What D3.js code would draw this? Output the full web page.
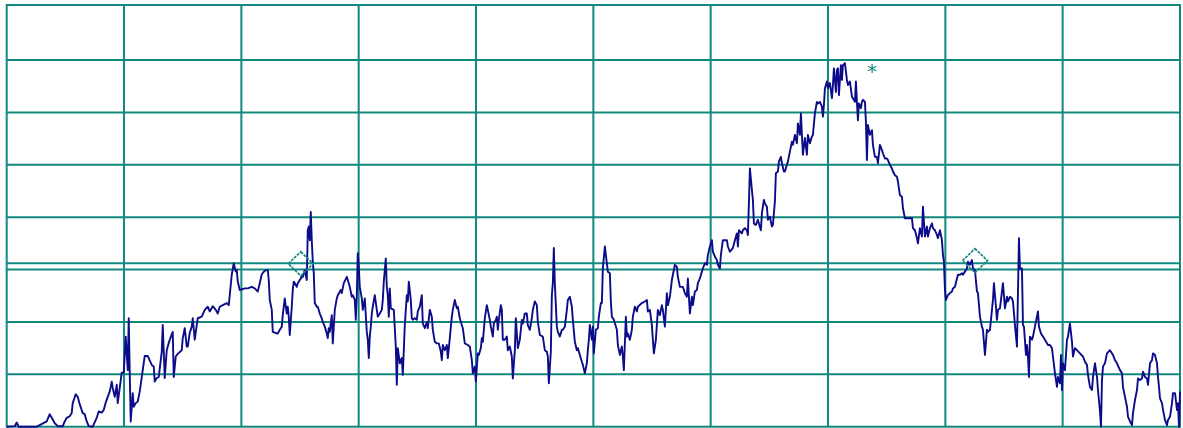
<!DOCTYPE html>
<html>
<head>
<meta charset="utf-8">
<script src="https://cdn.jsdelivr.net/npm/d3@7"></script>
<style>
  html, body { margin: 0; padding: 0; background: #ffffff; }
  svg { display: block; }
</style>
</head>
<body>
<svg id="chart" width="1183" height="428"></svg>
<script>
// Analyzer screen: 10 horizontal divisions of trace points, 10 dB/div, reference level 0 dB
const pointCount = 1173;
const refLevel = 0;
const bottomLevel = -80;
const levelDivs = [-10, -20, -30, -40, -50, -60, -70];
const pointDivs = d3.range(1, 10).map(k => k * pointCount / 10);
const displayLine = -48.8;

// trace: [display point, level dB]
const trace = [
[0,-80],[8,-79.9],[10,-79.2],[12,-80],[30,-80],[33,-79.7],[40,-79],[43,-77.6],[45,-78.3],[48,-79.3],
[51,-79.9],[56,-79.9],[58,-79],[60,-78.3],[63,-78],[65,-77.4],[66,-75.5],[69,-73.8],[71,-74.3],[73,-75.7],
[76,-77.4],[78,-77.6],[80,-79],[82,-79.9],[86,-80],[90,-78.3],[92,-77.1],[95,-77.3],[97,-76.8],[99,-75.4],
[101,-74.3],[103,-73.3],[105,-71.4],[106,-72.6],[108,-74.3],[110,-72],[111,-75.5],[113,-72.6],[115,-69.7],[117,-69.7],
[119,-62.8],[121,-69.2],[122,-59.3],[123,-69.7],[124,-79],[126,-73.6],[127,-76.2],[129,-75.5],[131,-75.2],[133,-73.3],
[136,-69.2],[138,-66.5],[141,-66.5],[145,-68.2],[147,-68.5],[148,-71.4],[150,-70.7],[152,-70.5],[155,-65.7],[156,-60.6],
[158,-70.7],[160,-65.4],[162,-64],[164,-62.9],[166,-61.9],[167,-70.5],[169,-66.6],[171,-66.1],[175,-65.4],[176,-63.1],
[178,-61.2],[180,-64.7],[181,-64.7],[183,-62.1],[185,-60.9],[186,-59.3],[188,-63.4],[190,-60.6],[191,-59.3],[195,-59],
[198,-57.7],[201,-57.1],[203,-58],[206,-57],[209,-57.7],[211,-58.4],[213,-57.1],[216,-56.8],[220,-56.4],[222,-56.8],
[223,-54.9],[225,-51],[227,-48.8],[229,-50.4],[230,-50.1],[231,-52.3],[233,-53.9],[238,-53.6],[241,-53.6],[245,-53.3],
[248,-53.6],[251,-54.2],[253,-52.6],[255,-50.9],[258,-50.2],[261,-50.1],[262,-52],[263,-55.8],[265,-57.7],[266,-61.9],
[270,-62.2],[271,-62.2],[273,-61.5],[275,-60.9],[276,-58.7],[278,-55.5],[280,-58.4],[281,-57.1],[282,-59],[283,-62.5],
[285,-57.1],[286,-53.9],[287,-52.3],[290,-53.3],[291,-52.6],[293,-52],[295,-51.4],[296,-51.4],[298,-50.1],[300,-52],
[301,-42.5],[302,-41.8],[303,-44.4],[304,-39],[305,-44.4],[306,-48.5],[307,-50.7],[308,-56.4],[310,-57.1],[311,-57.1],
[313,-58.4],[315,-59.3],[316,-60],[318,-60.9],[320,-62.2],[321,-63.1],[322,-61.2],[323,-61.9],[325,-58.7],[326,-64.1],
[328,-57.7],[330,-55.5],[331,-54.9],[334,-53.9],[335,-54.5],[337,-52.6],[340,-51.4],[341,-52],[343,-53.3],[345,-55.2],
[346,-54.9],[348,-55.8],[349,-59.6],[350,-55.2],[351,-46.9],[352,-49.5],[353,-53.3],[355,-55.5],[356,-57.7],[358,-55.5],
[360,-61.9],[361,-63.4],[362,-66.9],[363,-62.8],[364,-60.9],[365,-58.4],[366,-57.1],[368,-54.9],[370,-57.7],[371,-59],
[373,-58.4],[375,-57.7],[376,-55.8],[377,-52.3],[379,-47.9],[380,-53.3],[381,-54.9],[382,-59],[383,-53.6],[384,-57.4],
[387,-57.7],[389,-64.7],[390,-72],[391,-65],[393,-67.9],[395,-66.9],[396,-70.1],[398,-60.6],[400,-54.9],[401,-56.1],
[402,-52.3],[404,-55.8],[405,-59.3],[406,-59.6],[408,-59.3],[410,-59.6],[411,-58],[413,-57.1],[415,-54.9],[416,-60.3],
[418,-61.2],[420,-60],[421,-61.2],[423,-57.7],[425,-59],[426,-61.5],[428,-63.8],[430,-64.1],[432,-64.1],[434,-65.7],
[435,-67.3],[436,-64.4],[438,-65.4],[440,-64.4],[441,-66.9],[443,-63.1],[445,-59],[446,-57.7],[448,-55.8],[450,-57.4],
[451,-57.1],[453,-59.3],[455,-60.6],[456,-61.2],[458,-64.1],[461,-64.4],[463,-64.7],[465,-67.3],[466,-69.8],[468,-68.5],
[469,-71.4],[471,-66],[472,-66.3],[474,-65],[475,-63.1],[476,-63.8],[478,-59.3],[480,-56.8],[481,-57.7],[483,-59.6],
[484,-60.9],[486,-62.8],[487,-60.3],[489,-59.6],[490,-59],[491,-61.5],[492,-59.6],[494,-56.8],[495,-57.7],[496,-63.4],
[498,-63.4],[500,-62.8],[501,-65.4],[503,-64.7],[505,-66.6],[506,-70.8],[508,-65.4],[509,-59.3],[511,-65],[513,-63.4],
[515,-59.6],[516,-60.3],[518,-58.4],[520,-58.4],[521,-60.6],[523,-61.5],[525,-59.3],[526,-57.7],[528,-56.1],[530,-56.8],
[531,-60],[533,-62.5],[536,-62.8],[538,-65.4],[540,-65.7],[541,-66.6],[542,-71.7],[544,-65.7],[545,-54.9],[546,-52.6],
[547,-45.9],[548,-52.6],[550,-60.9],[551,-61.9],[553,-62.8],[555,-61.5],[556,-61.5],[558,-60.9],[560,-57.7],[561,-55.8],
[563,-55.2],[565,-57.1],[566,-59.6],[568,-63.8],[570,-65.4],[571,-65],[573,-66.3],[575,-67.6],[576,-68.2],[578,-69.8],
[580,-67.9],[581,-65.4],[582,-63.4],[583,-60.6],[585,-63.4],[586,-60.9],[587,-66],[589,-61.5],[591,-61.2],[592,-59],
[594,-56.4],[595,-56.4],[596,-49.8],[598,-45.6],[599,-47.2],[600,-48.8],[601,-50.4],[603,-50.7],[604,-56.1],[605,-59],
[607,-59.6],[610,-61.5],[611,-64.4],[613,-66.3],[615,-64.7],[616,-66.6],[617,-69.2],[619,-59],[620,-62.8],[621,-62.2],
[623,-63.4],[625,-61.5],[626,-59],[628,-57.1],[630,-58],[631,-57.1],[635,-56.4],[638,-56.1],[640,-55.8],[641,-58],
[643,-57.7],[645,-60.6],[646,-63.4],[647,-66],[649,-63.4],[651,-57.7],[653,-58.7],[655,-56.8],[656,-57.7],[658,-60.9],
[660,-54.5],[661,-56.8],[663,-55.2],[665,-52],[666,-51],[668,-49.1],[670,-49.5],[671,-51.4],[673,-53.3],[676,-53.3],
[678,-54.5],[680,-55.2],[681,-51.7],[683,-58.4],[685,-55.2],[686,-56.8],[688,-54.2],[690,-53.9],[691,-52.6],[693,-51.7],
[695,-50.4],[696,-49.8],[698,-48.8],[700,-49.1],[701,-47.2],[703,-45.6],[705,-44.4],[706,-46.6],[708,-47.5],[710,-48.2],
[711,-49.1],[713,-49.8],[714,-47.2],[716,-44.4],[720,-44.4],[721,-45.6],[723,-46.6],[726,-45.9],[728,-44.4],[730,-43.1],
[731,-45.6],[732,-42.5],[735,-43.1],[736,-42.5],[738,-42.1],[740,-42.5],[741,-43.4],[742,-37.4],[743,-30.7],[745,-34.8],
[746,-36.7],[747,-41.2],[749,-41.5],[751,-40.5],[752,-41.2],[754,-42.5],[755,-39.3],[757,-36.7],[758,-37.4],[760,-38],
[761,-40.5],[763,-39.9],[765,-41.8],[766,-41.5],[768,-37],[769,-31.6],[771,-31.3],[772,-29.4],[774,-28.5],[775,-29.7],
[777,-31.3],[778,-31.3],[780,-30],[781,-29.4],[783,-27.5],[785,-25.6],[786,-26.2],[788,-24.3],[790,-25.9],[791,-22.1],
[793,-24.3],[794,-20.2],[795,-24.3],[796,-28.1],[798,-24.9],[800,-28.1],[801,-24.3],[803,-25.9],[805,-24.6],[806,-24.3],
[808,-20.2],[810,-18],[811,-18.3],[813,-18],[815,-18.9],[816,-20.8],[817,-18.6],[818,-15.4],[820,-14.1],[821,-15.4],
[823,-14.4],[825,-17.3],[826,-14.8],[827,-11.6],[829,-16.1],[830,-11.9],[831,-11.6],[832,-16.7],[834,-11],[835,-13.8],
[836,-11],[838,-10.6],[840,-13.8],[841,-14.8],[843,-14.1],[845,-17],[846,-17.3],[848,-18],[849,-14.1],[850,-18],
[851,-21.5],[852,-18.3],[854,-19.2],[855,-18],[856,-17.6],[858,-18],[859,-21.8],[860,-29.1],[861,-22.4],[863,-24.3],
[865,-23.4],[866,-26.2],[868,-28.5],[870,-28.5],[871,-29.7],[873,-26.2],[875,-27.2],[876,-27.8],[878,-28.8],[880,-28.8],
[881,-29.1],[883,-30],[885,-30.7],[886,-31.3],[888,-32],[890,-32.3],[891,-33.2],[893,-35.8],[895,-36.1],[896,-38.3],
[898,-40.2],[905,-40.2],[906,-42.1],[908,-42.5],[910,-44],[911,-45],[913,-42.1],[915,-43.7],[916,-38],[917,-40.9],
[918,-43.7],[920,-41.8],[921,-43.7],[923,-42.1],[925,-41.2],[926,-42.1],[928,-42.5],[930,-43.4],[931,-44],[933,-42.5],
[935,-44.4],[936,-47.2],[937,-48.5],[938,-53.9],[939,-55.8],[941,-54.9],[943,-54.5],[945,-54.2],[946,-53.6],[948,-53.3],
[950,-51.7],[951,-51],[953,-51],[955,-50.7],[956,-51],[958,-50.4],[960,-49.8],[961,-48.5],[963,-49.1],[965,-48.2],
[966,-49.8],[968,-50.1],[970,-54.2],[971,-54.5],[973,-59],[975,-60.9],[976,-61.5],[978,-66.3],[980,-61.5],[981,-61.9],
[983,-61.5],[985,-57.7],[986,-55.8],[987,-52.6],[989,-57.1],[990,-59.6],[991,-57.7],[993,-57.4],[995,-54.2],[996,-52.6],
[998,-57.4],[1000,-55.2],[1001,-56.1],[1003,-55.2],[1005,-55.5],[1006,-56.1],[1008,-60.6],[1010,-64.7],[1011,-54.5],[1012,-44],
[1013,-49.8],[1015,-49.8],[1016,-60.6],[1017,-60.9],[1019,-66.3],[1020,-64.4],[1021,-66.6],[1022,-70.5],[1023,-62.8],[1025,-63.4],
[1026,-62.8],[1028,-60.9],[1031,-58],[1032,-60.9],[1034,-62.2],[1036,-62.8],[1038,-63.4],[1041,-64.4],[1043,-64.4],[1045,-65],
[1046,-66.6],[1048,-69.8],[1050,-72.4],[1051,-70.5],[1053,-71.7],[1054,-66.3],[1055,-73],[1056,-67.9],[1058,-69.2],[1060,-63.4],
[1061,-62.8],[1063,-60.3],[1065,-63.8],[1066,-66.6],[1068,-65],[1070,-65.4],[1073,-66],[1076,-66.6],[1078,-67.6],[1080,-68.2],
[1081,-70.1],[1083,-72.4],[1085,-73],[1086,-70.5],[1088,-67.9],[1090,-70.5],[1091,-73],[1093,-77.1],[1094,-80],[1095,-71.1],
[1096,-68.5],[1098,-67.9],[1100,-66],[1103,-65.4],[1106,-66.3],[1108,-67.3],[1110,-67.9],[1113,-69.2],[1115,-69.8],[1116,-72.4],
[1118,-74.3],[1120,-76.2],[1121,-78.1],[1123,-79],[1125,-79.7],[1126,-77.4],[1128,-74.9],[1130,-73],[1131,-70.8],[1133,-71.1],
[1135,-70.8],[1136,-69.5],[1138,-70.5],[1140,-70.8],[1141,-72],[1143,-67.9],[1145,-67.3],[1146,-66],[1148,-66.3],[1150,-67.9],
[1151,-70.5],[1152,-72.4],[1153,-74.6],[1155,-75.5],[1156,-76.8],[1158,-78.7],[1160,-79.7],[1161,-78.7],[1163,-78.1],[1165,-75.5],
[1166,-73.6],[1168,-73.6],[1170,-76.8],[1171,-75.5],[1172,-80],[1173,-73.3]
];

// delta markers (diamonds) and the reference marker (asterisk)
const markerPoints = [294, 968];
const markerLevels = [-48.9, -48.3];
const refMarker = { point: 865, level: -11.4, label: "*" };

const svg = d3.select("#chart");
const width = 1183, height = 428;
const frame = { left: 6.7, right: 1180, top: 5, bottom: 426.7 };

const x = d3.scaleLinear().domain([0, pointCount]).range([frame.left, frame.right]);
const y = d3.scaleLinear().domain([bottomLevel, refLevel]).range([frame.bottom, 7.6]);

const gridColor = "#12897f";
const traceColor = "#0c0c8a";

svg.append("rect").attr("width", width).attr("height", height).attr("fill", "#ffffff");

const grid = svg.append("g").attr("stroke", gridColor).attr("stroke-width", 2).attr("fill", "none");

grid.selectAll("line.v").data(pointDivs).join("line")
  .attr("class", "v")
  .attr("x1", d => x(d)).attr("x2", d => x(d))
  .attr("y1", frame.top).attr("y2", frame.bottom);

grid.selectAll("line.h").data(levelDivs).join("line")
  .attr("class", "h")
  .attr("x1", frame.left).attr("x2", frame.right)
  .attr("y1", d => y(d)).attr("y2", d => y(d));

grid.append("rect")
  .attr("x", frame.left).attr("y", frame.top)
  .attr("width", frame.right - frame.left).attr("height", frame.bottom - frame.top);

// display line
grid.append("line")
  .attr("x1", frame.left).attr("x2", frame.right)
  .attr("y1", y(displayLine)).attr("y2", y(displayLine));

// trace
const line = d3.line()
  .x(d => x(d[0]))
  .y(d => y(Math.max(bottomLevel, d[1])));

svg.append("path")
  .datum(trace)
  .attr("d", line)
  .attr("fill", "none")
  .attr("stroke", traceColor)
  .attr("stroke-width", 1.9)
  .attr("stroke-linejoin", "round");

// diamond markers
const hw = 12.5, hh = 12;
svg.append("g").selectAll("path").data(markerPoints).join("path")
  .attr("d", (p, i) => {
    const cx = x(p), cy = y(markerLevels[i]);
    return `M${cx},${cy - hh}L${cx + hw},${cy}L${cx},${cy + hh}L${cx - hw},${cy}Z`;
  })
  .attr("fill", "none")
  .attr("stroke", gridColor)
  .attr("stroke-width", 1.7)
  .attr("stroke-dasharray", "3,1");

// reference marker
svg.append("text")
  .attr("x", x(refMarker.point))
  .attr("y", y(refMarker.level) + 11)
  .attr("text-anchor", "middle")
  .attr("font-family", "DejaVu Sans, sans-serif")
  .attr("font-size", 20)
  .attr("fill", gridColor)
  .text(refMarker.label);
</script>
</body>
</html>
